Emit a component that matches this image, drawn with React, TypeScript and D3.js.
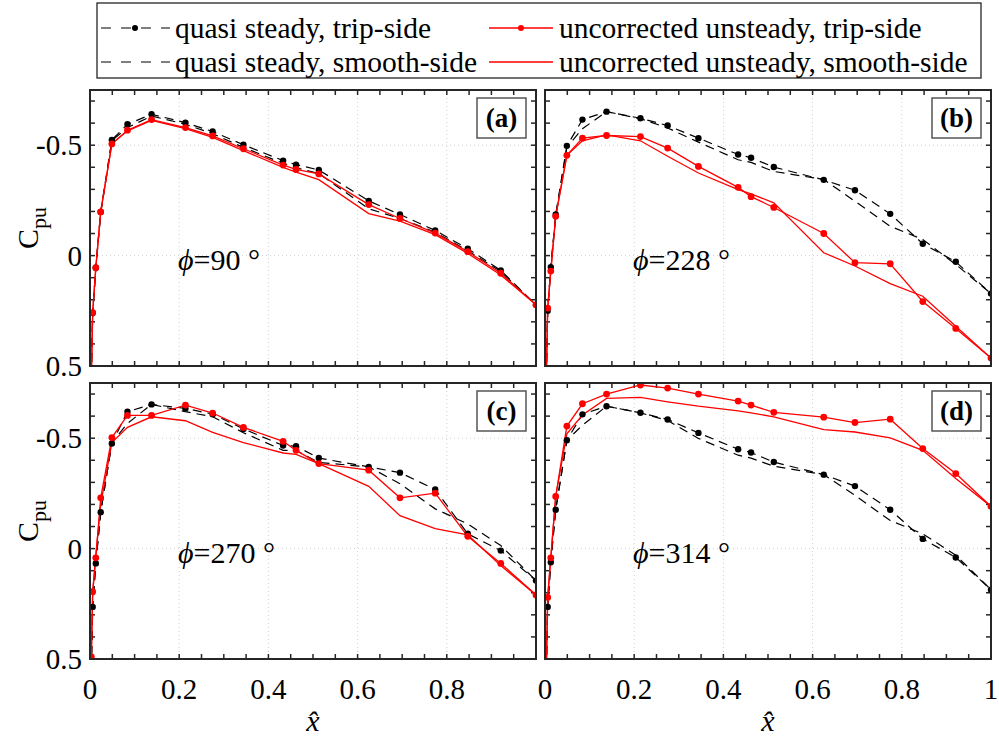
import React from "react";
import * as d3 from "d3";

// pressure tap chord positions (same taps for every panel)
const xTaps = [0.003, 0.006, 0.013, 0.024, 0.049, 0.084, 0.138, 0.214, 0.275, 0.344, 0.433, 0.462, 0.513, 0.625, 0.695, 0.774, 0.847, 0.921, 1.0];

// (a) phi = 90
const qsTripA = [0.55, 0.26, 0.055, -0.198, -0.524, -0.595, -0.64, -0.602, -0.562, -0.502, -0.43, -0.412, -0.388, -0.248, -0.186, -0.114, -0.031, 0.067, 0.223];
const qsSmoothA = [0.55, 0.26, 0.06, -0.19, -0.52, -0.58, -0.632, -0.595, -0.552, -0.49, -0.418, -0.398, -0.372, -0.212, -0.168, -0.106, -0.022, 0.072, 0.223];
const unTripA = [0.55, 0.258, 0.055, -0.198, -0.506, -0.568, -0.616, -0.58, -0.542, -0.484, -0.41, -0.39, -0.37, -0.231, -0.168, -0.102, -0.018, 0.08, 0.223];
const unSmoothA = [0.55, 0.258, 0.055, -0.198, -0.506, -0.565, -0.612, -0.575, -0.535, -0.475, -0.4, -0.378, -0.344, -0.19, -0.156, -0.095, -0.01, 0.088, 0.223];

// (b) phi = 228
const qsTripB = [0.55, 0.25, 0.052, -0.186, -0.497, -0.616, -0.652, -0.622, -0.589, -0.532, -0.458, -0.443, -0.401, -0.343, -0.296, -0.189, -0.054, 0.028, 0.172];
const qsSmoothB = [0.55, 0.25, 0.05, -0.18, -0.49, -0.575, -0.652, -0.62, -0.578, -0.514, -0.434, -0.422, -0.381, -0.345, -0.246, -0.133, -0.073, 0.04, 0.172];
const unTripB = [0.55, 0.238, 0.07, -0.178, -0.454, -0.532, -0.544, -0.539, -0.487, -0.404, -0.309, -0.267, -0.218, -0.1, 0.032, 0.037, 0.208, 0.33, 0.464];
const unSmoothB = [0.55, 0.238, 0.07, -0.178, -0.454, -0.52, -0.547, -0.52, -0.45, -0.374, -0.299, -0.28, -0.239, -0.013, 0.047, 0.127, 0.184, 0.32, 0.464];

// (c) phi = 270
const qsTripC = [0.55, 0.264, 0.067, -0.165, -0.476, -0.62, -0.653, -0.635, -0.609, -0.542, -0.467, -0.464, -0.41, -0.37, -0.344, -0.268, -0.067, 0.009, 0.145];
const qsSmoothC = [0.55, 0.264, 0.067, -0.165, -0.48, -0.567, -0.653, -0.62, -0.597, -0.525, -0.445, -0.445, -0.39, -0.37, -0.294, -0.18, -0.112, -0.014, 0.145];
const unTripC = [0.49, 0.195, 0.042, -0.23, -0.503, -0.603, -0.603, -0.65, -0.614, -0.549, -0.486, -0.445, -0.385, -0.355, -0.23, -0.251, -0.056, 0.067, 0.21];
const unSmoothC = [0.49, 0.2, 0.03, -0.2, -0.48, -0.549, -0.597, -0.579, -0.526, -0.48, -0.433, -0.427, -0.385, -0.282, -0.149, -0.09, -0.062, 0.077, 0.21];

// (d) phi = 314
const qsTripD = [0.55, 0.264, 0.062, -0.176, -0.491, -0.608, -0.645, -0.615, -0.585, -0.524, -0.45, -0.435, -0.392, -0.335, -0.283, -0.176, -0.044, 0.04, 0.186];
const qsSmoothD = [0.55, 0.264, 0.062, -0.176, -0.49, -0.559, -0.645, -0.615, -0.58, -0.499, -0.423, -0.41, -0.373, -0.335, -0.241, -0.127, -0.067, 0.03, 0.186];
const unTripD = [0.55, 0.221, 0.042, -0.236, -0.555, -0.656, -0.7, -0.741, -0.727, -0.7, -0.668, -0.65, -0.617, -0.595, -0.571, -0.586, -0.453, -0.34, -0.191];
const unSmoothD = [0.55, 0.221, 0.042, -0.236, -0.52, -0.605, -0.68, -0.685, -0.665, -0.645, -0.624, -0.615, -0.597, -0.539, -0.528, -0.501, -0.445, -0.317, -0.191];

const panelLetters = ["(a)", "(b)", "(c)", "(d)"];
const phiValues = ["90", "228", "270", "314"];
const yTickLabels = ["-0.5", "0", "0.5"];
const yTickValues = [-0.5, 0, 0.5];
const xTickLabels = ["0", "0.2", "0.4", "0.6", "0.8", "1"];
const xTickValues = [0, 0.2, 0.4, 0.6, 0.8, 1];
const legendLabels = [
  "quasi steady, trip-side",
  "quasi steady, smooth-side",
  "uncorrected unsteady, trip-side",
  "uncorrected unsteady, smooth-side",
];

const SERIF = "Liberation Serif";
const RED = "#ff0000";
const FRAME = "#262626";
const DASH = "9,6";

type PanelProps = {
  id: string;
  left: number;
  top: number;
  qsTrip: number[];
  qsSmooth: number[];
  unTrip: number[];
  unSmooth: number[];
  letter: string;
  phi: string;
  showY: boolean;
  showX: boolean;
  lastX: boolean;
};

const PW = 446;
const PH = 276;

function Panel(p: PanelProps) {
  const x = d3.scaleLinear().domain([0, 1]).range([p.left, p.left + PW]);
  const y = d3.scaleLinear().domain([-0.75, 0.5]).range([p.top, p.top + PH]);
  const line = d3
    .line<number>()
    .x((_, i) => x(xTaps[i]))
    .y((d) => y(d));

  const xMinor = d3.range(0.05, 1, 0.05);
  const yMinor = d3.range(-0.7, 0.45, 0.1);
  const tl = 5;
  const bottom = p.top + PH;
  const right = p.left + PW;

  const nX = p.lastX ? xTickValues.length : xTickValues.length - 1;

  return (
    <g>
      <defs>
        <clipPath id={p.id}>
          <rect x={p.left} y={p.top} width={PW} height={PH} />
        </clipPath>
      </defs>
      <rect x={p.left} y={p.top} width={PW} height={PH} fill="#fff" />
      {/* grid */}
      {[0.2, 0.4, 0.6, 0.8].map((v) => (
        <line key={"gx" + v} x1={x(v)} x2={x(v)} y1={p.top} y2={bottom} stroke="#d0d0d0" strokeWidth={1} strokeDasharray="1,3" />
      ))}
      {[-0.5, 0].map((v) => (
        <line key={"gy" + v} x1={p.left} x2={right} y1={y(v)} y2={y(v)} stroke="#d0d0d0" strokeWidth={1} strokeDasharray="1,3" />
      ))}
      {/* ticks on all four sides, pointing inward */}
      {xMinor.map((v) => (
        <g key={"xt" + v} stroke={FRAME} strokeWidth={1.5}>
          <line x1={x(v)} x2={x(v)} y1={bottom} y2={bottom - tl} />
          <line x1={x(v)} x2={x(v)} y1={p.top} y2={p.top + tl} />
        </g>
      ))}
      {yMinor.map((v) => (
        <g key={"yt" + v.toFixed(2)} stroke={FRAME} strokeWidth={1.5}>
          <line x1={p.left} x2={p.left + tl} y1={y(v)} y2={y(v)} />
          <line x1={right} x2={right - tl} y1={y(v)} y2={y(v)} />
        </g>
      ))}
      {/* data */}
      <g clipPath={`url(#${p.id})`}>
        <path d={line(p.qsSmooth) ?? ""} fill="none" stroke="#000" strokeWidth={1.2} strokeDasharray={DASH} />
        <path d={line(p.qsTrip) ?? ""} fill="none" stroke="#000" strokeWidth={1.2} strokeDasharray={DASH} />
        <path d={line(p.unSmooth) ?? ""} fill="none" stroke={RED} strokeWidth={1.3} />
        <path d={line(p.unTrip) ?? ""} fill="none" stroke={RED} strokeWidth={1.3} />
        {p.qsTrip.map((d, i) => (
          <circle key={"qm" + i} cx={x(xTaps[i])} cy={y(d)} r={3.2} fill="#000" />
        ))}
        {p.unTrip.map((d, i) => (
          <circle key={"um" + i} cx={x(xTaps[i])} cy={y(d)} r={3.4} fill={RED} />
        ))}
      </g>
      <rect x={p.left} y={p.top} width={PW} height={PH} fill="none" stroke={FRAME} strokeWidth={2} />
      {/* panel letter */}
      <rect x={p.left + 387} y={p.top + 8} width={49} height={40} fill="#fff" stroke="#555" strokeWidth={1.5} />
      <text x={p.left + 411.5} y={p.top + 37} textAnchor="middle" fontFamily={SERIF} fontWeight="bold" fontSize={27}>
        {p.letter}
      </text>
      {/* phi annotation */}
      <text x={p.left + 88} y={p.top + 180} fontFamily={SERIF} fontSize={30}>
        <tspan fontStyle="italic">ϕ</tspan>
        <tspan>{"=" + p.phi + " °"}</tspan>
      </text>
      {p.showY &&
        yTickValues.map((v, i) => (
          <text key={"yl" + i} x={p.left - 8} y={y(v) + 10} textAnchor="end" fontFamily={SERIF} fontSize={29}>
            {yTickLabels[i]}
          </text>
        ))}
      {p.showX &&
        xTickValues.slice(0, nX).map((v, i) => (
          <text key={"xl" + i} x={x(v)} y={bottom + 40} textAnchor="middle" fontFamily={SERIF} fontSize={29}>
            {xTickLabels[i]}
          </text>
        ))}
    </g>
  );
}

function YLabel({ cx, cy }: { cx: number; cy: number }) {
  return (
    <text transform={`translate(${cx},${cy}) rotate(-90)`} textAnchor="middle" fontFamily={SERIF} fontSize={30}>
      <tspan>C</tspan>
      <tspan fontSize={22} dy={8}>pu</tspan>
    </text>
  );
}

function XLabel({ cx, y }: { cx: number; y: number }) {
  return (
    <text x={cx} y={y} textAnchor="middle" fontFamily={SERIF} fontStyle="italic" fontSize={30}>
      x̂
    </text>
  );
}

function Legend() {
  const rows = [30, 64];
  return (
    <g>
      <rect x={97} y={3} width={884} height={75} fill="#fff" stroke={FRAME} strokeWidth={1.3} />
      <line x1={101} x2={170} y1={rows[0] - 2} y2={rows[0] - 2} stroke="#000" strokeWidth={1.2} strokeDasharray="10,10" />
      <circle cx={135} cy={rows[0] - 2} r={3} fill="#000" />
      <text x={175} y={rows[0] + 8} fontFamily={SERIF} fontSize={29.5}>{legendLabels[0]}</text>
      <line x1={101} x2={170} y1={rows[1] - 2} y2={rows[1] - 2} stroke="#000" strokeWidth={1.2} strokeDasharray="10,10" />
      <text x={175} y={rows[1] + 8} fontFamily={SERIF} fontSize={29.5}>{legendLabels[1]}</text>
      <line x1={489} x2={553} y1={rows[0] - 2} y2={rows[0] - 2} stroke={RED} strokeWidth={1.5} />
      <circle cx={521} cy={rows[0] - 2} r={3} fill={RED} />
      <text x={559} y={rows[0] + 8} fontFamily={SERIF} fontSize={29.5}>{legendLabels[2]}</text>
      <line x1={489} x2={553} y1={rows[1] - 2} y2={rows[1] - 2} stroke={RED} strokeWidth={1.5} />
      <text x={559} y={rows[1] + 8} fontFamily={SERIF} fontSize={29.5}>{legendLabels[3]}</text>
    </g>
  );
}

export default function App() {
  const lefts = [90, 545];
  const tops = [90, 383];
  return (
    <svg width={999} height={739} fontFamily={SERIF} style={{ position: "absolute", left: 0, top: 0, background: "#fff" }}>
      <rect x={0} y={0} width={999} height={739} fill="#fff" />
      <Panel id="cpA" left={lefts[0]} top={tops[0]} qsTrip={qsTripA} qsSmooth={qsSmoothA} unTrip={unTripA} unSmooth={unSmoothA} letter={panelLetters[0]} phi={phiValues[0]} showY showX={false} lastX={false} />
      <Panel id="cpB" left={lefts[1]} top={tops[0]} qsTrip={qsTripB} qsSmooth={qsSmoothB} unTrip={unTripB} unSmooth={unSmoothB} letter={panelLetters[1]} phi={phiValues[1]} showY={false} showX={false} lastX={false} />
      <Panel id="cpC" left={lefts[0]} top={tops[1]} qsTrip={qsTripC} qsSmooth={qsSmoothC} unTrip={unTripC} unSmooth={unSmoothC} letter={panelLetters[2]} phi={phiValues[2]} showY showX lastX={false} />
      <Panel id="cpD" left={lefts[1]} top={tops[1]} qsTrip={qsTripD} qsSmooth={qsSmoothD} unTrip={unTripD} unSmooth={unSmoothD} letter={panelLetters[3]} phi={phiValues[3]} showY={false} showX lastX />
      <YLabel cx={38} cy={228} />
      <YLabel cx={38} cy={521} />
      <XLabel cx={313} y={731} />
      <XLabel cx={768} y={731} />
      <Legend />
    </svg>
  );
}
